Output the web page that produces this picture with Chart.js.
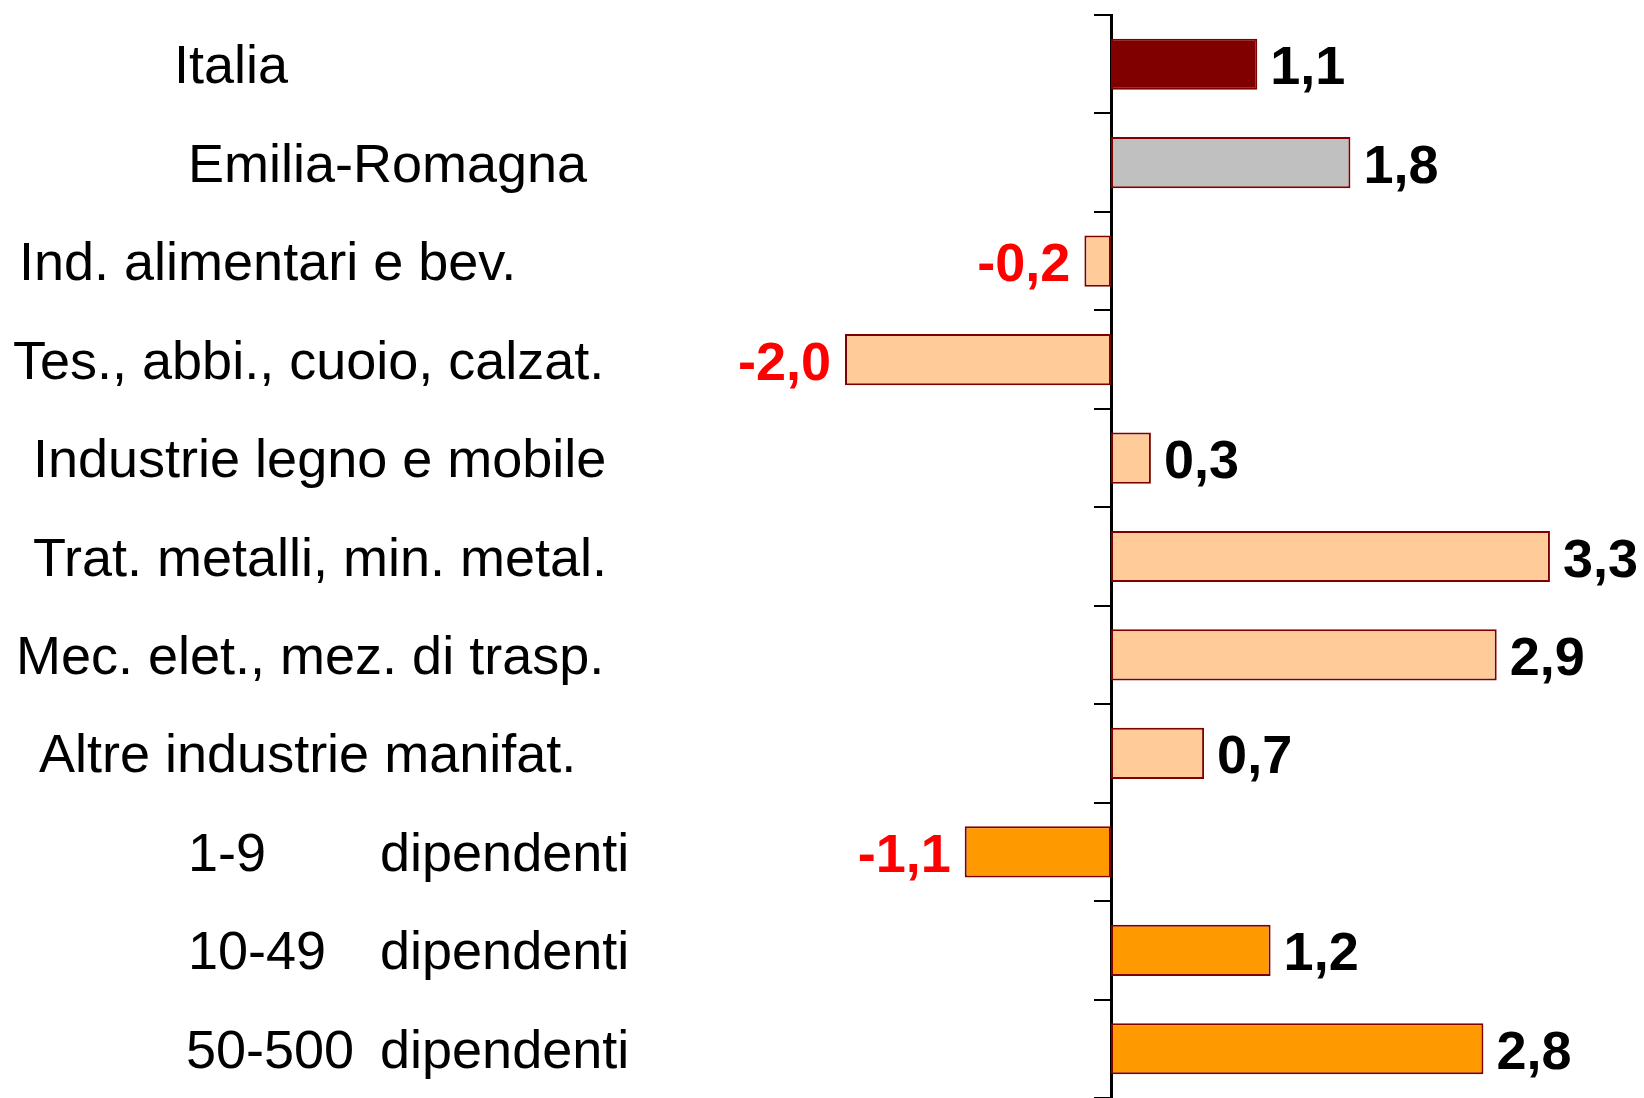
<!DOCTYPE html>
<html>
<head>
<meta charset="utf-8">
<script src="https://cdn.jsdelivr.net/npm/chart.js@4/dist/chart.umd.min.js"></script>
<style>
  html, body { margin: 0; padding: 0; background: #fff; }
  canvas { display: block; }
</style>
</head>
<body>
<canvas id="chart" width="1644" height="1098"></canvas>
<script>
// categories (tab separates the two columns of the size classes)
var categories = [
  'Italia',
  'Emilia-Romagna',
  'Ind. alimentari e bev.',
  'Tes., abbi., cuoio, calzat.',
  'Industrie legno e mobile',
  'Trat. metalli, min. metal.',
  'Mec. elet., mez. di trasp.',
  'Altre industrie manifat.',
  '1-9\tdipendenti',
  '10-49\tdipendenti',
  '50-500\tdipendenti'
];
var values = [1.1, 1.8, -0.2, -2.0, 0.3, 3.3, 2.9, 0.7, -1.1, 1.2, 2.8];

// styling / layout kept apart from the data
var barColors = ['#800000', '#C0C0C0', '#FFCC99', '#FFCC99', '#FFCC99', '#FFCC99',
                 '#FFCC99', '#FFCC99', '#FF9900', '#FF9900', '#FF9900'];
var labelX = [174, 188, 19, 13, 33, 33, 16, 39, 188, 188, 186];
var secondColX = 380;

var FONT = '"Liberation Sans", Arial, Helvetica, sans-serif';

// draws the category names on the left and the value labels next to the bars
var labelsPlugin = {
  id: 'labels',
  afterDatasetsDraw: function(chart) {
    var ctx = chart.ctx;
    var yScale = chart.scales.y;
    var meta = chart.getDatasetMeta(0);
    ctx.save();

    ctx.font = '54px ' + FONT;
    ctx.fillStyle = '#000';
    ctx.textAlign = 'left';
    ctx.textBaseline = 'alphabetic';
    categories.forEach(function(c, i) {
      var y = yScale.getPixelForValue(i) + 19;
      var parts = c.split('\t');
      ctx.fillText(parts[0], labelX[i], y);
      if (parts[1]) ctx.fillText(parts[1], secondColX, y);
    });

    ctx.font = 'bold 54px ' + FONT;
    meta.data.forEach(function(bar, i) {
      var v = values[i];
      var txt = v.toFixed(1).replace('.', ',');
      var y = bar.y + 20;
      if (v < 0) {
        ctx.fillStyle = '#FF0000';
        ctx.textAlign = 'right';
        ctx.fillText(txt, bar.x - 14, y);
      } else {
        ctx.fillStyle = '#000';
        ctx.textAlign = 'left';
        ctx.fillText(txt, bar.x + 13, y);
      }
    });
    ctx.restore();
  }
};

new Chart(document.getElementById('chart').getContext('2d'), {
  type: 'bar',
  data: {
    labels: categories,
    datasets: [{
      data: values,
      backgroundColor: barColors,
      borderColor: '#800000',
      borderWidth: 2,
      borderSkipped: false,
      barPercentage: 0.52,
      categoryPercentage: 1.0
    }]
  },
  options: {
    indexAxis: 'y',
    responsive: false,
    animation: false,
    layout: { padding: { left: 579, right: 1, top: 15, bottom: 0 } },
    plugins: {
      legend: { display: false },
      tooltip: { enabled: false }
    },
    scales: {
      x: {
        display: false,
        min: -4,
        max: 4
      },
      y: {
        position: { x: 0 },
        grid: {
          drawOnChartArea: false,
          offset: true,
          tickLength: 16,
          color: '#000',
          lineWidth: 2
        },
        border: { color: '#000', width: 3 },
        ticks: { display: false }
      }
    }
  },
  plugins: [labelsPlugin]
});
</script>
</body>
</html>
